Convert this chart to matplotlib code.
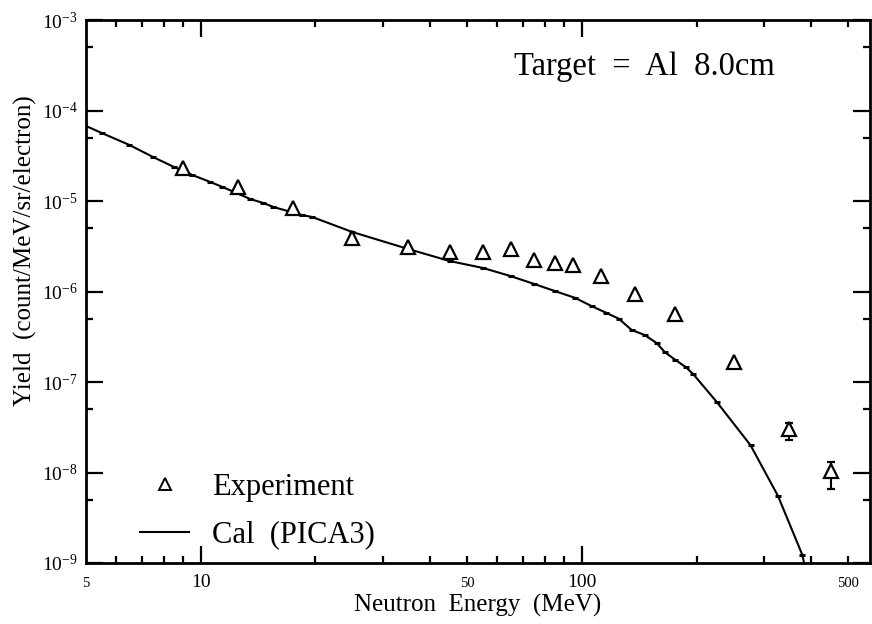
import matplotlib
matplotlib.use("Agg")
import matplotlib.pyplot as plt
from matplotlib.ticker import FixedLocator, NullFormatter, FixedFormatter
from matplotlib.lines import Line2D

plt.rcParams['font.family'] = ['Liberation Serif', 'DejaVu Serif']
plt.rcParams['mathtext.fontset'] = 'custom'
plt.rcParams['mathtext.rm'] = 'Liberation Serif'
plt.rcParams['mathtext.it'] = 'Liberation Serif:italic'
plt.rcParams['mathtext.bf'] = 'Liberation Serif:bold'

# ---- data ----
exp_E = [9, 12.5, 17.5, 25, 35, 45, 55, 65, 75, 85, 95, 112.5, 137.5, 175, 250, 350, 450]
exp_Y = [2.3e-5, 1.43e-5, 8.4e-6, 3.9e-6, 3.1e-6, 2.73e-6, 2.73e-6, 2.95e-6, 2.23e-6,
         2.06e-6, 1.96e-6, 1.48e-6, 9.4e-7, 5.6e-7, 1.66e-7, 3.0e-8, 1.04e-8]
exp_lo = [0, 0, 0, 0, 0, 0, 0, 0, 0, 0, 0, 0, 0, 0, 0, 0.71e-8, 0.38e-8]
exp_hi = [0, 0, 0, 0, 0, 0, 0, 0, 0, 0, 0, 0, 0, 0, 0, 0.52e-8, 0.27e-8]

cal_E = [5, 5.5, 6.5, 7.5, 8.5, 9.5, 10.6, 11.4, 13.5, 14.6, 15.5, 18.4, 19.6, 25, 35,
         45, 55, 65, 75, 85, 96, 106, 116, 125, 135, 146, 157, 165, 176, 187, 196,
         226, 277, 327, 379, 400]
cal_Y = [6.74e-5, 5.64e-5, 4.16e-5, 3.06e-5, 2.38e-5, 1.94e-5, 1.62e-5, 1.43e-5, 1.05e-5,
         9.5e-6, 8.6e-6, 7.0e-6, 6.66e-6, 4.54e-6, 2.95e-6, 2.17e-6, 1.82e-6, 1.48e-6,
         1.21e-6, 1.01e-6, 8.5e-7, 6.9e-7, 5.8e-7, 5.0e-7, 3.76e-7, 3.31e-7, 2.7e-7,
         2.14e-7, 1.75e-7, 1.47e-7, 1.22e-7, 6.0e-8, 2.0e-8, 5.5e-9, 1.22e-9, 4e-10]

x_major = [10, 100]
x_major_labels = ["10", "100"]
x_minor = [6, 7, 8, 9, 20, 30, 40, 50, 60, 70, 80, 90, 200, 300, 400, 500]
x_minor_labels = ["", "", "", "", "", "", "", "50", "", "", "", "", "", "", "", "500"]
y_major = [1e-9, 1e-8, 1e-7, 1e-6, 1e-5, 1e-4, 1e-3]
y_major_labels = [r"$10^{-9}$", r"$10^{-8}$", r"$10^{-7}$", r"$10^{-6}$",
                  r"$10^{-5}$", r"$10^{-4}$", r"$10^{-3}$"]
y_minor = [5e-9, 5e-8, 5e-7, 5e-6, 5e-5, 5e-4]

fig = plt.figure(figsize=(8.72, 6.24), dpi=100)
W, H = 872, 624
ax = fig.add_axes([86 / W, 1 - 563 / H, (870 - 86) / W, (563 - 20) / H])

ax.set_xscale('log')
ax.set_yscale('log')
ax.set_xlim(5, 570)
ax.set_ylim(1e-9, 1e-3)

# calculation line
ax.plot(cal_E, cal_Y, color='black', lw=1.5, zorder=2, clip_on=True)
ax.plot(cal_E[1:-1], cal_Y[1:-1], ls='none', marker='_', ms=5, mew=2.2,
        color='black', zorder=2)

# experiment
ax.errorbar(exp_E, exp_Y, yerr=[exp_lo, exp_hi], fmt='^', ms=10, mfc='white',
            mec='black', mew=1.6, ecolor='black', elinewidth=1.5, capsize=3,
            capthick=1.5, zorder=3)

# ticks
ax.xaxis.set_major_locator(FixedLocator(x_major))
ax.xaxis.set_major_formatter(FixedFormatter(x_major_labels))
ax.xaxis.set_minor_locator(FixedLocator(x_minor))
ax.xaxis.set_minor_formatter(FixedFormatter(x_minor_labels))
ax.yaxis.set_major_locator(FixedLocator(y_major))
ax.yaxis.set_major_formatter(FixedFormatter(y_major_labels))
ax.yaxis.set_minor_locator(FixedLocator(y_minor))
ax.yaxis.set_minor_formatter(NullFormatter())

ax.tick_params(which='both', direction='in', top=True, right=True, width=1.6)
ax.tick_params(which='major', length=12, labelsize=14)
ax.tick_params(which='minor', length=5, labelsize=10.5)
ax.tick_params(axis='x', which='major', pad=8)
ax.tick_params(axis='x', which='minor', pad=10)
ax.tick_params(axis='y', which='major', pad=6)

# "5" label at the left edge
ax.text(5, -0.025, "5", transform=ax.get_xaxis_transform(), ha='center', va='top',
        fontsize=10.5)

for s in ax.spines.values():
    s.set_linewidth(2)

ax.set_xlabel("Neutron  Energy  (MeV)", fontsize=18, labelpad=2)
ax.set_ylabel("Yield  (count/MeV/sr/electron)", fontsize=18)
ax.yaxis.set_label_coords(-0.062, 0.576)

ax.text(0.546, 0.899, "Target  =  Al  8.0cm", transform=ax.transAxes, fontsize=23.5,
        ha='left', va='baseline')

handles = [Line2D([], [], ls='none', marker='^', ms=8, mfc='white', mec='black', mew=1.4),
           Line2D([], [], color='black', lw=1.5)]
ax.legend(handles, ["Experiment", "Cal  (PICA3)"], loc='lower left',
          bbox_to_anchor=(0.069, 0.025), frameon=False, fontsize=22,
          handlelength=1.6, handletextpad=0.75, labelspacing=0.6, borderpad=0,
          borderaxespad=0)

fig.savefig("out.png", dpi=100)
